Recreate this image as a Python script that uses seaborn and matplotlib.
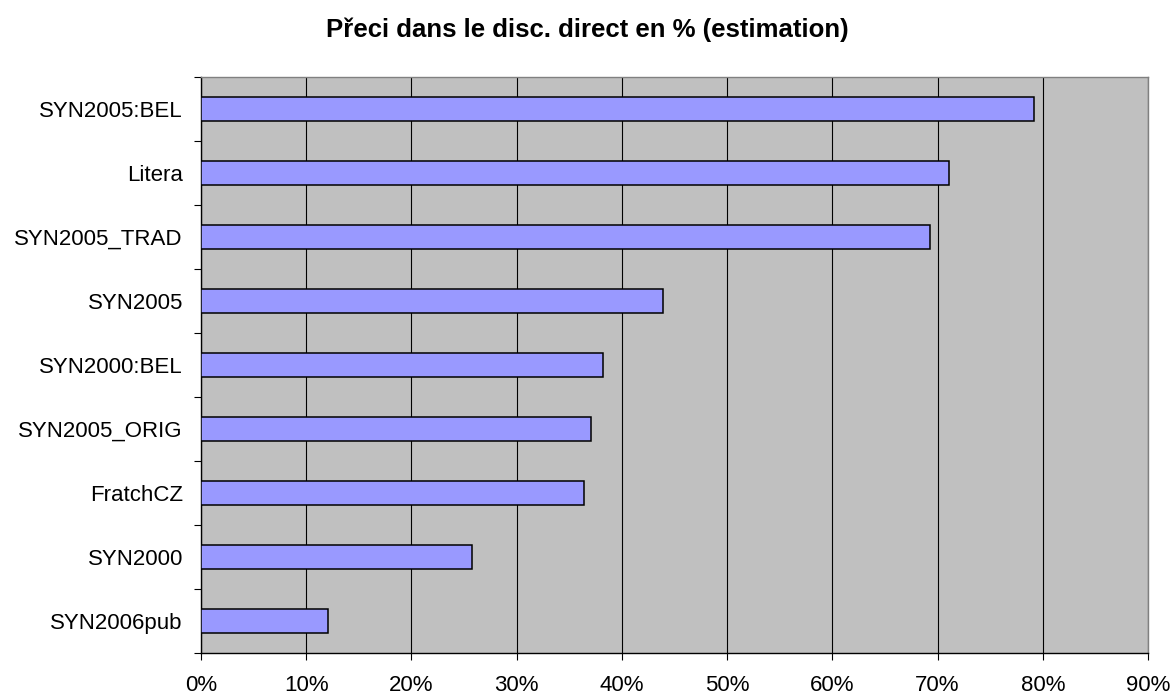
import matplotlib
matplotlib.use("Agg")
import matplotlib.pyplot as plt
import seaborn as sns
import pandas as pd
from matplotlib.ticker import FixedLocator, PercentFormatter

categories = ["SYN2005:BEL", "Litera", "SYN2005_TRAD", "SYN2005", "SYN2000:BEL",
              "SYN2005_ORIG", "FratchCZ", "SYN2000", "SYN2006pub"]
values = [79.2, 71.1, 69.3, 43.9, 38.2, 37.1, 36.4, 25.8, 12.1]
x_ticks = [0, 10, 20, 30, 40, 50, 60, 70, 80, 90]
title = "Přeci dans le disc. direct en % (estimation)"

sns.set_theme(style="white")
plt.rcParams['font.family'] = ['Liberation Sans', 'DejaVu Sans']

df = pd.DataFrame({"cat": categories, "val": values})

fig = plt.figure(figsize=(11.75, 6.94), dpi=100)
ax = fig.add_axes([201/1175, 1-653/694, (1148-201)/1175, (653-77)/694])
ax.set_facecolor("#C0C0C0")

sns.barplot(data=df, x="val", y="cat", orient="h", color="#9999FF",
            saturation=1, width=0.39, edgecolor="black", linewidth=1.1,
            ax=ax, zorder=3)

ax.set_xlim(0, 90)
ax.set_ylim(len(categories) - 0.5, -0.5)
ax.xaxis.set_major_locator(FixedLocator(x_ticks))
ax.xaxis.set_major_formatter(PercentFormatter(decimals=0))
ax.grid(axis="x", color="black", linewidth=0.8, zorder=1)
ax.set_axisbelow(True)

# y ticks: labels at centers (no tick), tick marks at category boundaries
ax.yaxis.set_minor_locator(FixedLocator([i - 0.5 for i in range(len(categories) + 1)]))
ax.tick_params(axis="y", which="major", length=0, pad=13, labelsize=16, colors="black")
ax.tick_params(axis="y", which="minor", length=5, width=0.8, color="black", left=True)
ax.tick_params(axis="x", which="major", length=5, width=0.8, color="black",
               bottom=True, pad=11, labelsize=16, labelcolor="black")

ax.set_xlabel("")
ax.set_ylabel("")

for side in ["top", "right"]:
    ax.spines[side].set_color("#808080")
    ax.spines[side].set_linewidth(1.0)
for side in ["left", "bottom"]:
    ax.spines[side].set_color("black")
    ax.spines[side].set_linewidth(1.0)

fig.text(587.5/1175, 1-37/694, title, ha="center", va="baseline",
         fontsize=18.5, fontweight="bold", color="black")

fig.savefig("out.png", dpi=100, facecolor="white")
